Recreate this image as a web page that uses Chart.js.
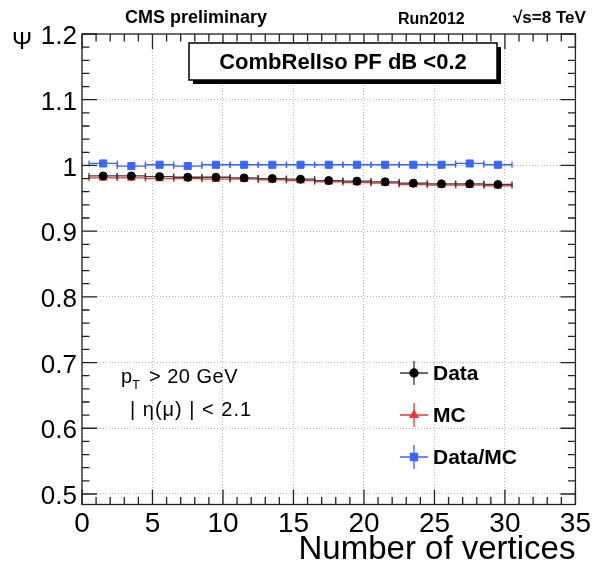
<!DOCTYPE html>
<html><head><meta charset="utf-8">
<script src="https://cdn.jsdelivr.net/npm/chart.js@4.4.1/dist/chart.umd.min.js"></script>
<style>html,body{margin:0;padding:0;background:#fff}#wrap{width:594px;height:566px;position:relative}</style>
</head><body><div id="wrap"><canvas id="c" width="594" height="566"></canvas></div>
<script>
// ---- data ----
const binCenters = [1.5, 3.5, 5.5, 7.5, 9.5, 11.5, 13.5, 15.5, 17.5, 19.5, 21.5, 23.5, 25.5, 27.5, 29.5];
const binHalfWidth = 1;
const dataEff = [0.984, 0.984, 0.983, 0.982, 0.982, 0.981, 0.980, 0.979, 0.977, 0.976, 0.975, 0.973, 0.972, 0.972, 0.971];
const mcEff   = [0.981, 0.981, 0.980, 0.980, 0.979, 0.979, 0.978, 0.977, 0.975, 0.974, 0.973, 0.971, 0.970, 0.970, 0.969];
const ratioEff = [1.003, 0.999, 1.001, 0.999, 1.001, 1.001, 1.001, 1.001, 1.001, 1.001, 1.001, 1.001, 1.001, 1.003, 1.001];
const seriesNames = ['Data', 'MC', 'Data/MC'];
const xTicks = [0, 5, 10, 15, 20, 25, 30, 35];
const yTicks = [0.5, 0.6, 0.7, 0.8, 0.9, 1.0, 1.1, 1.2];
const xTitle = 'Number of vertices';
const yTitle = 'Ψ';
const boxLabel = 'CombRelIso PF dB <0.2';

const colors = ['#000000', '#e53a30', '#3a66ff'];
const lineColors = ['#3a3a3a', '#e53a30', '#3a66ff'];
const styles = ['circle', 'triangle', 'rect'];
const radii = [4, 4.5, 5];

const toPts = arr => arr.map((v, i) => ({x: binCenters[i], y: v}));
const seriesValues = [dataEff, mcEff, ratioEff];

const FONT = '"Liberation Sans", Arial, Helvetica, sans-serif';

const rootStyle = {
  id: 'rootStyle',
  beforeDatasetsDraw(chart) {
    const {ctx, scales: {x, y}} = chart;
    ctx.save();
    [1, 0, 2].forEach(i => {
      const ds = chart.data.datasets[i];
      ctx.strokeStyle = lineColors[i];
      ctx.lineWidth = 1.3;
      ds.data.forEach(p => {
        const xl = x.getPixelForValue(p.x - binHalfWidth);
        const xr = x.getPixelForValue(p.x + binHalfWidth);
        const yp = y.getPixelForValue(p.y);
        ctx.beginPath();
        ctx.moveTo(xl, yp); ctx.lineTo(xr, yp);
        ctx.moveTo(xl, yp - 3); ctx.lineTo(xl, yp + 3);
        ctx.moveTo(xr, yp - 3); ctx.lineTo(xr, yp + 3);
        ctx.stroke();
      });
    });
    ctx.restore();
  },
  afterDraw(chart) {
    const {ctx, chartArea: a, scales: {x, y}} = chart;
    ctx.save();
    // frame
    ctx.strokeStyle = '#222';
    ctx.lineWidth = 1.3;
    ctx.strokeRect(a.left, a.top, a.right - a.left, a.bottom - a.top);
    // ticks (inside, all four sides)
    ctx.beginPath();
    const xStep = (xTicks[1] - xTicks[0]) / 5;
    for (let k = 0; k <= (xTicks[xTicks.length - 1] - xTicks[0]) / xStep + 0.01; k++) {
      const v = xTicks[0] + k * xStep;
      const px = x.getPixelForValue(v);
      const len = (k % 5 === 0) ? 15 : 7.5;
      ctx.moveTo(px, a.bottom); ctx.lineTo(px, a.bottom - len);
      ctx.moveTo(px, a.top); ctx.lineTo(px, a.top + len);
    }
    const yStep = (yTicks[1] - yTicks[0]) / 5;
    for (let k = -1; k <= Math.round((yTicks[yTicks.length - 1] - yTicks[0]) / yStep); k++) {
      const v = yTicks[0] + k * yStep;
      if (v < y.min - 1e-9) continue;
      const py = y.getPixelForValue(v);
      const len = (k % 5 === 0) ? 15 : 7.5;
      ctx.moveTo(a.left, py); ctx.lineTo(a.left + len, py);
      ctx.moveTo(a.right, py); ctx.lineTo(a.right - len, py);
    }
    ctx.stroke();

    // header texts
    ctx.fillStyle = '#000';
    ctx.textBaseline = 'middle';
    ctx.textAlign = 'left';
    ctx.font = 'bold 18px ' + FONT;
    ctx.fillText('CMS preliminary', 125, 18);
    ctx.font = 'bold 16px ' + FONT;
    ctx.fillText('Run2012', 398, 20);
    ctx.font = 'bold 17px ' + FONT;
    ctx.fillText('√s=8 TeV', 513, 18);
    ctx.font = '24px ' + FONT;
    ctx.fillText(yTitle, 12, 42);

    // title box with shadow
    const bx = 189, by = 43, bw = 308, bh = 37;
    ctx.fillStyle = '#000';
    ctx.fillRect(bx + 4, by + 4, bw, bh);
    ctx.fillStyle = '#fff';
    ctx.fillRect(bx, by, bw, bh);
    ctx.strokeStyle = '#000';
    ctx.lineWidth = 1.5;
    ctx.strokeRect(bx, by, bw, bh);
    ctx.fillStyle = '#000';
    ctx.textAlign = 'center';
    ctx.font = 'bold 22px ' + FONT;
    ctx.fillText(boxLabel, bx + bw / 2, by + bh / 2 + 1);

    // cut labels
    ctx.textAlign = 'left';
    ctx.font = '20px ' + FONT;
    ctx.fillText('p', 121, 377);
    ctx.font = '13px ' + FONT;
    ctx.fillText('T', 132, 385);
    ctx.font = '20px ' + FONT;
    ctx.letterSpacing = '0.5px';
    ctx.fillText('> 20 GeV', 149, 377);
    ctx.letterSpacing = '1px';
    ctx.fillText('| η(μ) | < 2.1', 130, 410);
    ctx.letterSpacing = '0px';

    // legend
    const lx = 414, ly = [373, 415, 457];
    chart.data.datasets.forEach((ds, i) => {
      ctx.strokeStyle = lineColors[i];
      ctx.lineWidth = 1.3;
      ctx.beginPath();
      ctx.moveTo(lx - 14, ly[i]); ctx.lineTo(lx + 14, ly[i]);
      ctx.moveTo(lx, ly[i] - 12); ctx.lineTo(lx, ly[i] + 12);
      ctx.stroke();
      ctx.fillStyle = colors[i];
      ctx.strokeStyle = colors[i];
      Chart.helpers.drawPoint(ctx, {pointStyle: styles[i], radius: radii[i], rotation: 0, borderWidth: 1}, lx, ly[i]);
      ctx.fillStyle = '#000';
      ctx.font = 'bold 21px ' + FONT;
      ctx.fillText(ds.label, 433, ly[i] + 1);
    });
    ctx.restore();
  }
};

new Chart(document.getElementById('c'), {
  type: 'scatter',
  data: {
    datasets: seriesValues.map((vals, i) => ({
      label: seriesNames[i],
      data: toPts(vals),
      pointStyle: styles[i],
      pointRadius: radii[i],
      pointHoverRadius: radii[i],
      backgroundColor: colors[i],
      borderColor: colors[i],
      borderWidth: 1,
      showLine: false
    }))
  },
  options: {
    responsive: false,
    animation: false,
    devicePixelRatio: 1,
    layout: {padding: {top: 34, right: 18, left: 0, bottom: 0}},
    plugins: {legend: {display: false}, tooltip: {enabled: false}},
    scales: {
      x: {
        type: 'linear', min: 0, max: 35, position: 'bottom',
        afterFit(s) { s.height = 61.5; },
        afterBuildTicks(s) { s.ticks = xTicks.map(v => ({value: v})); },
        ticks: {color: '#000', font: {size: 28, family: FONT}, padding: 3, maxRotation: 0, autoSkip: false},
        grid: {color: '#b8b8b8', drawTicks: false, lineWidth: 1},
        border: {display: false, dash: [1, 2]},
        title: {display: true, text: xTitle, align: 'end', color: '#000', font: {size: 33, family: FONT}, padding: {top: 0, bottom: -4}}
      },
      y: {
        type: 'linear', min: 0.484, max: 1.2,
        afterFit(s) { s.width = 82; },
        afterBuildTicks(s) { s.ticks = yTicks.map(v => ({value: v})); },
        ticks: {color: '#000', font: {size: 26, family: FONT}, padding: 5, labelOffset: 3,
          callback: v => String(Math.round(v * 10) / 10)},
        grid: {color: '#b8b8b8', drawTicks: false, lineWidth: 1},
        border: {display: false, dash: [1, 2]}
      }
    }
  },
  plugins: [rootStyle]
});
</script>
</body></html>
